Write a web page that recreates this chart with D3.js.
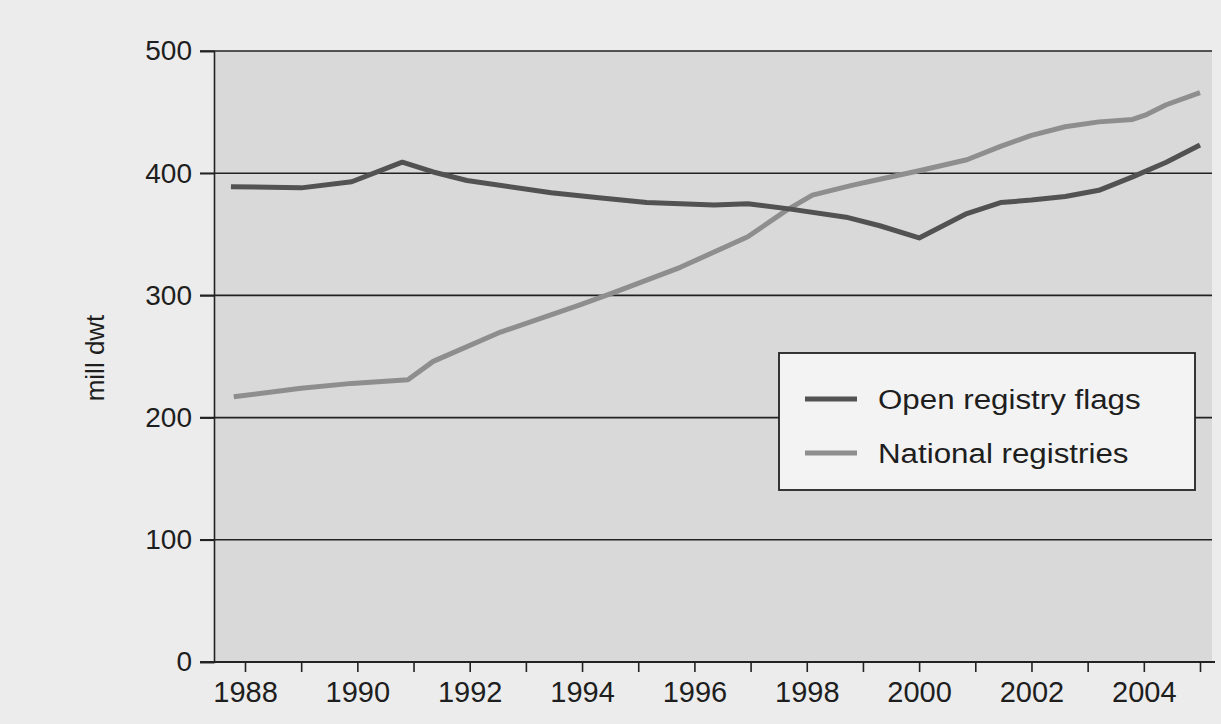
<!DOCTYPE html>
<html>
<head>
<meta charset="utf-8">
<script src="https://d3js.org/d3.v7.min.js"></script>
<style>
  body { margin: 0; background: #ececec; }
  svg { display: block; font-family: "Liberation Sans", Arial, sans-serif; }
  .tick text { fill: #1e1e1e; }
</style>
</head>
<body>
<svg id="chart" width="1221" height="724"></svg>
<script>
// open registry flags
var openYears  = [1987.75, 1989, 1989.9, 1990.8, 1991.35, 1991.95, 1993.45, 1994.3, 1995.15, 1996.35, 1996.95, 1997.65, 1998.7, 1999.3, 2000, 2000.85, 2001.45, 2002, 2002.6, 2003.2, 2003.8, 2004.4, 2005];
var openValues = [389, 388, 393, 409, 401, 394, 384, 380, 376, 374, 375, 371, 364, 357, 347, 367, 376, 378, 381, 386, 397, 409, 423];

// national registries
var nationalYears  = [1987.8, 1989, 1989.9, 1990.9, 1991.35, 1992.55, 1993.95, 1994.55, 1995.75, 1996.95, 1997.65, 1998.1, 1998.8, 1999.3, 2000, 2000.85, 2001.45, 2002, 2002.6, 2003.2, 2003.8, 2004.05, 2004.4, 2005];
var nationalValues = [217, 224, 228, 231, 246, 270, 292, 302, 323, 348, 370, 382, 390, 395, 402, 411, 422, 431, 438, 442, 444, 448, 456, 466];

var yearTicks  = d3.range(1988, 2006);
var valueTicks = [0, 100, 200, 300, 400, 500];
var seriesNames = ["Open registry flags", "National registries"];

var svg = d3.select("#chart");
// (don't call it "top", that's window.top)
var m = { left: 214, right: 1212, top: 51, bottom: 662 };

var x = d3.scaleLinear().domain([1988, 2005]).range([245, 1200]);
var y = d3.scaleLinear().domain([0, 500]).range([m.bottom, m.top]);

// plot background
svg.append("rect")
    .attr("x", m.left).attr("y", m.top)
    .attr("width", m.right - m.left).attr("height", m.bottom - m.top)
    .attr("fill", "#d9d9d9");

// horizontal gridlines (start a bit left of the axis, like the ticks)
svg.append("g").selectAll("line")
    .data(valueTicks)
    .enter().append("line")
    .attr("x1", m.left - 14).attr("x2", m.right)
    .attr("y1", d => y(d)).attr("y2", d => y(d))
    .attr("stroke", "#222").attr("stroke-width", 1.6);

// y axis labels
var yAxis = svg.append("g")
    .attr("transform", "translate(" + m.left + ",0)")
    .call(d3.axisLeft(y).tickValues(valueTicks).tickSize(14).tickPadding(8));
yAxis.select(".domain").attr("stroke", "#222").attr("stroke-width", 1.6);
yAxis.selectAll(".tick line").attr("stroke", "#222").attr("stroke-width", 1.6);
yAxis.selectAll(".tick text").attr("font-size", 28);

// x axis
var xAxis = svg.append("g")
    .attr("transform", "translate(0," + m.bottom + ")")
    .call(d3.axisBottom(x).tickValues(yearTicks).tickSize(10).tickPadding(9)
        .tickFormat(d => d % 2 === 0 ? d : ""));
xAxis.select(".domain").remove();
xAxis.selectAll(".tick line").attr("stroke", "#222").attr("stroke-width", 1.6);
xAxis.selectAll(".tick text").attr("font-size", 29);
svg.append("line")
    .attr("x1", m.left - 14).attr("x2", m.right + 3)
    .attr("y1", m.bottom).attr("y2", m.bottom)
    .attr("stroke", "#222").attr("stroke-width", 1.8);

// axis title
svg.append("text")
    .attr("transform", "translate(104,358) rotate(-90)")
    .attr("text-anchor", "middle")
    .attr("font-size", 26)
    .attr("fill", "#1e1e1e")
    .text("mill dwt");

var line = d3.line()
    .x(d => x(d[0]))
    .y(d => y(d[1]));

var openData = openYears.map((yr, i) => [yr, openValues[i]]);
var nationalData = nationalYears.map((yr, i) => [yr, nationalValues[i]]);

svg.append("path")
    .datum(nationalData)
    .attr("d", line)
    .attr("fill", "none")
    .attr("stroke", "#8e8e8e")
    .attr("stroke-width", 5)
    .attr("stroke-linejoin", "round");

svg.append("path")
    .datum(openData)
    .attr("d", line)
    .attr("fill", "none")
    .attr("stroke", "#525252")
    .attr("stroke-width", 5)
    .attr("stroke-linejoin", "round");

// legend
var legend = svg.append("g").attr("transform", "translate(779,353)");
legend.append("rect")
    .attr("width", 416).attr("height", 137)
    .attr("fill", "#f3f3f3")
    .attr("stroke", "#222").attr("stroke-width", 1.8);

var colors = ["#525252", "#8e8e8e"];
seriesNames.forEach(function(name, i) {
    var ly = 46 + i * 54;
    legend.append("line")
        .attr("x1", 26).attr("x2", 78)
        .attr("y1", ly).attr("y2", ly)
        .attr("stroke", colors[i]).attr("stroke-width", 5);
    // scanned font is wider than Arial, stretch a little
    legend.append("text")
        .attr("transform", "translate(99," + (ly + 10) + ") scale(1.16,1)")
        .attr("font-size", 27)
        .attr("fill", "#1e1e1e")
        .text(name);
});
</script>
</body>
</html>
